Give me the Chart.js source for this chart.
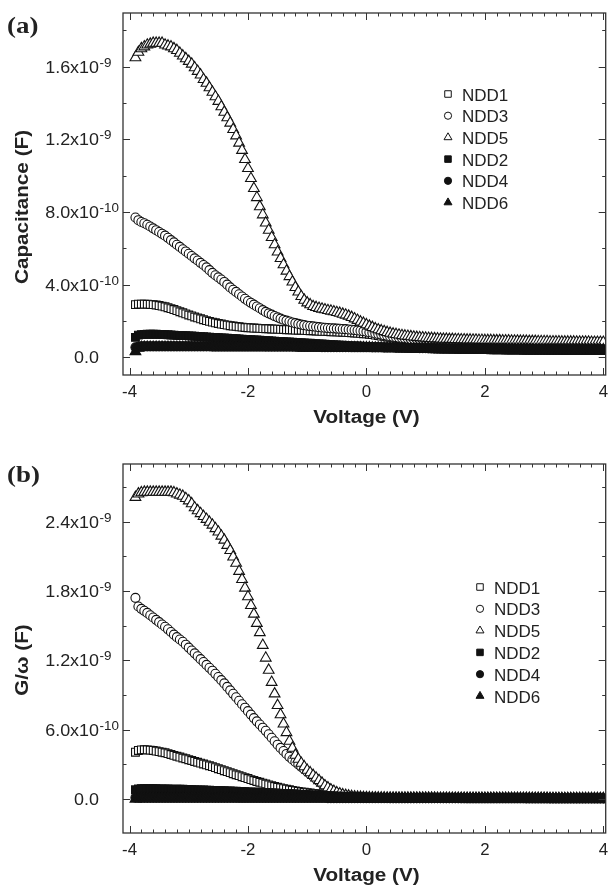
<!DOCTYPE html>
<html>
<head>
<meta charset="utf-8">
<script src="https://cdn.jsdelivr.net/npm/chart.js@4.4.1/dist/chart.umd.min.js"></script>
<style>
  html, body { margin: 0; padding: 0; background: #fff; }
  .panel { position: absolute; left: 0; }
  #panelA { top: 0; }
  #panelB { top: 450px; }
</style>
</head>
<body>
<div class="panel" id="panelA"><canvas id="chartA" width="613" height="450"></canvas></div>
<div class="panel" id="panelB"><canvas id="chartB" width="613" height="437"></canvas></div>
<script>
// ------------------------------
// Data (y values in units of 1e-10 F)
// ------------------------------
const voltage = [
  -3.9,-3.85,-3.8,-3.75,-3.7,-3.65,-3.6,-3.55,-3.5,-3.45,
  -3.4,-3.35,-3.3,-3.25,-3.2,-3.15,-3.1,-3.05,-3,-2.95,
  -2.9,-2.85,-2.8,-2.75,-2.7,-2.65,-2.6,-2.55,-2.5,-2.45,
  -2.4,-2.35,-2.3,-2.25,-2.2,-2.15,-2.1,-2.05,-2,-1.95,
  -1.9,-1.85,-1.8,-1.75,-1.7,-1.65,-1.6,-1.55,-1.5,-1.45,
  -1.4,-1.35,-1.3,-1.25,-1.2,-1.15,-1.1,-1.05,-1,-0.95,
  -0.9,-0.85,-0.8,-0.75,-0.7,-0.65,-0.6,-0.55,-0.5,-0.45,
  -0.4,-0.35,-0.3,-0.25,-0.2,-0.15,-0.1,-0.05,0,0.05,
  0.1,0.15,0.2,0.25,0.3,0.35,0.4,0.45,0.5,0.55,
  0.6,0.65,0.7,0.75,0.8,0.85,0.9,0.95,1,1.05,
  1.1,1.15,1.2,1.25,1.3,1.35,1.4,1.45,1.5,1.55,
  1.6,1.65,1.7,1.75,1.8,1.85,1.9,1.95,2,2.05,
  2.1,2.15,2.2,2.25,2.3,2.35,2.4,2.45,2.5,2.55,
  2.6,2.65,2.7,2.75,2.8,2.85,2.9,2.95,3,3.05,
  3.1,3.15,3.2,3.25,3.3,3.35,3.4,3.45,3.5,3.55,
  3.6,3.65,3.7,3.75,3.8,3.85,3.9,3.95,4
];

const seriesNames = ['NDD1', 'NDD3', 'NDD5', 'NDD2', 'NDD4', 'NDD6'];

// (a) Capacitance
const capNDD1 = [
  2.9,2.93,2.93,2.93,2.92,2.91,2.9,2.88,2.85,2.82,
  2.78,2.73,2.68,2.63,2.57,2.51,2.45,2.39,2.33,2.28,
  2.22,2.17,2.12,2.07,2.02,1.98,1.94,1.9,1.86,1.83,
  1.8,1.77,1.74,1.72,1.7,1.68,1.66,1.64,1.63,1.62,
  1.61,1.6,1.59,1.58,1.57,1.57,1.56,1.55,1.55,1.54,
  1.53,1.52,1.52,1.51,1.5,1.49,1.49,1.48,1.47,1.46,
  1.46,1.45,1.44,1.43,1.43,1.42,1.41,1.4,1.4,1.39,
  1.38,1.37,1.36,1.35,1.34,1.33,1.32,1.3,1.29,1.27,
  1.25,1.22,1.2,1.17,1.15,1.12,1.1,1.07,1.05,1.02,
  1,0.98,0.96,0.94,0.92,0.91,0.9,0.88,0.86,0.85,
  0.84,0.83,0.82,0.81,0.8,0.79,0.78,0.77,0.76,0.76,
  0.75,0.74,0.74,0.73,0.72,0.72,0.71,0.71,0.7,0.7,
  0.69,0.69,0.68,0.68,0.67,0.67,0.67,0.66,0.66,0.66,
  0.65,0.65,0.65,0.64,0.64,0.64,0.63,0.63,0.63,0.63,
  0.62,0.62,0.62,0.62,0.61,0.61,0.61,0.61,0.61,0.6,
  0.6,0.6,0.6,0.6,0.6,0.6,0.6,0.59,0.59
];
const capNDD3 = [
  7.7,7.55,7.45,7.38,7.3,7.2,7.1,7,6.9,6.8,
  6.7,6.58,6.45,6.33,6.2,6.08,5.95,5.83,5.7,5.58,
  5.45,5.33,5.2,5.08,4.95,4.8,4.65,4.52,4.4,4.28,
  4.15,4,3.85,3.72,3.6,3.47,3.35,3.22,3.1,3,
  2.9,2.8,2.7,2.6,2.5,2.42,2.35,2.27,2.2,2.13,
  2.07,2.02,1.97,1.92,1.88,1.84,1.8,1.77,1.74,1.72,
  1.7,1.68,1.66,1.64,1.63,1.61,1.6,1.59,1.58,1.57,
  1.56,1.55,1.53,1.52,1.5,1.48,1.46,1.44,1.41,1.38,
  1.35,1.31,1.28,1.25,1.22,1.19,1.16,1.13,1.11,1.08,
  1.06,1.04,1.02,1,0.99,0.98,0.97,0.96,0.94,0.93,
  0.92,0.91,0.9,0.89,0.89,0.88,0.87,0.87,0.86,0.86,
  0.85,0.85,0.84,0.84,0.83,0.83,0.82,0.82,0.81,0.81,
  0.81,0.8,0.8,0.8,0.79,0.79,0.79,0.78,0.78,0.78,
  0.77,0.77,0.77,0.76,0.76,0.76,0.76,0.75,0.75,0.75,
  0.75,0.74,0.74,0.74,0.74,0.73,0.73,0.73,0.73,0.73,
  0.72,0.72,0.72,0.72,0.72,0.71,0.71,0.71,0.71
];
const capNDD5 = [
  16.5,16.8,17,17.1,17.2,17.25,17.3,17.3,17.3,17.3,
  17.2,17.15,17.1,17,16.9,16.75,16.6,16.45,16.3,16.15,
  15.95,15.75,15.55,15.3,15.1,14.85,14.6,14.35,14.1,13.8,
  13.5,13.2,12.9,12.55,12.2,11.8,11.4,10.9,10.4,9.85,
  9.3,8.8,8.3,7.85,7.4,7,6.6,6.2,5.8,5.45,
  5.1,4.75,4.45,4.15,3.85,3.6,3.35,3.15,3,2.9,
  2.8,2.75,2.7,2.66,2.62,2.58,2.55,2.51,2.47,2.43,
  2.38,2.33,2.27,2.2,2.12,2.04,1.95,1.88,1.8,1.72,
  1.65,1.58,1.52,1.47,1.42,1.37,1.33,1.29,1.26,1.23,
  1.2,1.18,1.16,1.14,1.12,1.1,1.09,1.08,1.06,1.05,
  1.04,1.03,1.02,1.01,1,1,0.99,0.99,0.98,0.98,
  0.97,0.97,0.96,0.96,0.95,0.95,0.94,0.94,0.93,0.93,
  0.93,0.92,0.92,0.92,0.91,0.91,0.91,0.9,0.9,0.9,
  0.89,0.89,0.89,0.88,0.88,0.88,0.87,0.87,0.87,0.87,
  0.86,0.86,0.86,0.86,0.85,0.85,0.85,0.85,0.85,0.84,
  0.84,0.84,0.84,0.84,0.83,0.83,0.83,0.83,0.83
];
const capNDD2 = [
  1.1,1.22,1.25,1.26,1.27,1.27,1.27,1.27,1.26,1.26,
  1.25,1.24,1.23,1.22,1.21,1.2,1.19,1.19,1.18,1.17,
  1.16,1.15,1.14,1.13,1.12,1.11,1.1,1.09,1.08,1.07,
  1.06,1.05,1.04,1.03,1.02,1.01,1,0.99,0.98,0.97,
  0.96,0.95,0.94,0.93,0.92,0.91,0.9,0.89,0.88,0.87,
  0.86,0.85,0.84,0.83,0.82,0.81,0.8,0.79,0.78,0.77,
  0.76,0.75,0.74,0.73,0.72,0.71,0.7,0.69,0.68,0.67,
  0.66,0.65,0.64,0.63,0.63,0.62,0.61,0.6,0.6,0.59,
  0.58,0.57,0.57,0.56,0.55,0.55,0.54,0.54,0.53,0.53,
  0.52,0.52,0.51,0.51,0.5,0.5,0.49,0.49,0.48,0.48,
  0.47,0.47,0.47,0.46,0.46,0.46,0.45,0.45,0.45,0.44,
  0.44,0.44,0.43,0.43,0.43,0.43,0.42,0.42,0.42,0.42,
  0.41,0.41,0.41,0.41,0.41,0.4,0.4,0.4,0.4,0.4,
  0.4,0.39,0.39,0.39,0.39,0.39,0.39,0.39,0.39,0.38,
  0.38,0.38,0.38,0.38,0.38,0.38,0.38,0.38,0.38,0.37,
  0.37,0.37,0.37,0.37,0.37,0.37,0.37,0.37,0.37
];
const capNDD4 = [
  0.55,0.58,0.6,0.6,0.6,0.6,0.6,0.6,0.6,0.6,
  0.6,0.6,0.6,0.6,0.6,0.6,0.6,0.6,0.6,0.6,
  0.6,0.6,0.6,0.6,0.6,0.6,0.59,0.59,0.59,0.59,
  0.59,0.59,0.59,0.59,0.59,0.59,0.59,0.59,0.59,0.59,
  0.59,0.59,0.59,0.59,0.58,0.58,0.58,0.58,0.58,0.58,
  0.58,0.58,0.58,0.58,0.58,0.57,0.57,0.57,0.57,0.57,
  0.57,0.57,0.57,0.56,0.56,0.56,0.56,0.56,0.56,0.56,
  0.56,0.56,0.56,0.55,0.55,0.55,0.55,0.55,0.55,0.55,
  0.54,0.54,0.54,0.54,0.53,0.53,0.53,0.53,0.52,0.52,
  0.52,0.52,0.51,0.51,0.51,0.51,0.5,0.5,0.5,0.5,
  0.5,0.49,0.49,0.49,0.49,0.49,0.48,0.48,0.48,0.48,
  0.48,0.48,0.47,0.47,0.47,0.47,0.47,0.47,0.47,0.47,
  0.46,0.46,0.46,0.46,0.46,0.46,0.46,0.46,0.46,0.46,
  0.46,0.46,0.46,0.45,0.45,0.45,0.45,0.45,0.45,0.45,
  0.45,0.45,0.44,0.44,0.44,0.44,0.44,0.44,0.44,0.44,
  0.44,0.44,0.44,0.44,0.44,0.44,0.44,0.44,0.44
];
const capNDD6 = [
  0.32,0.5,0.55,0.56,0.56,0.56,0.56,0.56,0.56,0.56,
  0.56,0.56,0.56,0.56,0.56,0.56,0.56,0.56,0.56,0.56,
  0.56,0.56,0.56,0.56,0.56,0.56,0.56,0.56,0.56,0.56,
  0.56,0.56,0.56,0.56,0.56,0.56,0.56,0.56,0.56,0.56,
  0.56,0.56,0.56,0.56,0.55,0.55,0.55,0.55,0.55,0.55,
  0.55,0.55,0.55,0.55,0.55,0.54,0.54,0.54,0.54,0.54,
  0.54,0.54,0.54,0.54,0.54,0.53,0.53,0.53,0.53,0.53,
  0.53,0.53,0.53,0.53,0.53,0.53,0.53,0.53,0.53,0.53,
  0.52,0.52,0.52,0.52,0.51,0.51,0.51,0.51,0.5,0.5,
  0.5,0.5,0.49,0.49,0.49,0.49,0.48,0.48,0.48,0.48,
  0.48,0.47,0.47,0.47,0.47,0.46,0.46,0.46,0.46,0.46,
  0.45,0.45,0.45,0.45,0.45,0.45,0.45,0.45,0.45,0.45,
  0.45,0.45,0.44,0.44,0.44,0.44,0.44,0.44,0.44,0.44,
  0.44,0.44,0.44,0.43,0.43,0.43,0.43,0.43,0.43,0.43,
  0.43,0.43,0.43,0.43,0.43,0.43,0.43,0.43,0.43,0.43,
  0.42,0.42,0.42,0.42,0.42,0.42,0.42,0.42,0.42
];

// (b) G/omega
const gNDD1 = [
  4.05,4.2,4.25,4.26,4.25,4.23,4.2,4.15,4.1,4.05,
  4,3.93,3.85,3.78,3.7,3.63,3.55,3.48,3.4,3.33,
  3.25,3.18,3.1,3.03,2.95,2.88,2.8,2.71,2.62,2.54,
  2.45,2.37,2.28,2.19,2.1,2.02,1.93,1.85,1.77,1.68,
  1.6,1.52,1.45,1.37,1.3,1.22,1.15,1.08,1.02,0.96,
  0.9,0.85,0.8,0.75,0.7,0.66,0.62,0.58,0.55,0.52,
  0.49,0.46,0.43,0.4,0.38,0.36,0.33,0.31,0.29,0.27,
  0.25,0.23,0.22,0.2,0.18,0.17,0.16,0.15,0.13,0.12,
  0.12,0.11,0.11,0.1,0.1,0.1,0.09,0.09,0.09,0.09,
  0.08,0.08,0.08,0.08,0.08,0.07,0.07,0.07,0.07,0.07,
  0.07,0.07,0.07,0.07,0.07,0.07,0.07,0.07,0.07,0.07,
  0.07,0.07,0.06,0.06,0.06,0.06,0.06,0.06,0.06,0.06,
  0.06,0.06,0.06,0.06,0.06,0.06,0.06,0.06,0.06,0.06,
  0.06,0.06,0.06,0.06,0.06,0.05,0.05,0.05,0.05,0.05,
  0.05,0.05,0.05,0.05,0.05,0.05,0.05,0.05,0.05,0.05,
  0.05,0.05,0.05,0.05,0.05,0.05,0.05,0.05,0.05
];
const gNDD3 = [
  17.4,16.65,16.45,16.28,16.1,15.9,15.7,15.5,15.3,15.1,
  14.9,14.68,14.45,14.22,14,13.8,13.6,13.35,13.1,12.85,
  12.6,12.35,12.1,11.85,11.6,11.35,11.1,10.83,10.55,10.28,
  10,9.7,9.4,9.1,8.8,8.5,8.2,7.9,7.6,7.3,
  7,6.72,6.45,6.17,5.9,5.6,5.3,5,4.7,4.42,
  4.15,3.9,3.65,3.42,3.2,3,2.78,2.57,2.36,2.15,
  1.95,1.74,1.53,1.32,1.12,0.94,0.77,0.63,0.51,0.41,
  0.33,0.27,0.22,0.19,0.16,0.14,0.13,0.12,0.11,0.1,
  0.1,0.1,0.09,0.09,0.09,0.09,0.08,0.08,0.08,0.08,
  0.08,0.08,0.07,0.07,0.07,0.07,0.07,0.07,0.07,0.07,
  0.07,0.07,0.07,0.07,0.07,0.07,0.07,0.07,0.07,0.07,
  0.07,0.07,0.06,0.06,0.06,0.06,0.06,0.06,0.06,0.06,
  0.06,0.06,0.06,0.06,0.06,0.06,0.06,0.06,0.06,0.06,
  0.06,0.06,0.05,0.05,0.05,0.05,0.05,0.05,0.05,0.05,
  0.05,0.05,0.05,0.05,0.05,0.05,0.05,0.05,0.05,0.05,
  0.05,0.05,0.05,0.05,0.05,0.05,0.05,0.05,0.05
];
const gNDD5 = [
  26.1,26.4,26.5,26.55,26.55,26.55,26.55,26.55,26.55,26.55,
  26.55,26.55,26.55,26.5,26.4,26.3,26.2,26,25.8,25.55,
  25.2,24.95,24.7,24.45,24.2,23.95,23.7,23.4,23.1,22.75,
  22.4,21.95,21.5,20.95,20.4,19.7,19,18.25,17.5,16.75,
  16,15.2,14.4,13.3,12.2,11.15,10.1,9.1,8.1,7.3,
  6.5,5.75,5,4.4,3.8,3.45,3.1,2.8,2.5,2.28,
  2.05,1.82,1.6,1.38,1.15,0.97,0.8,0.67,0.55,0.46,
  0.38,0.32,0.27,0.23,0.2,0.18,0.16,0.14,0.13,0.12,
  0.11,0.11,0.1,0.1,0.1,0.09,0.09,0.09,0.09,0.08,
  0.08,0.08,0.08,0.08,0.08,0.08,0.08,0.08,0.08,0.08,
  0.08,0.08,0.07,0.07,0.07,0.07,0.07,0.07,0.07,0.07,
  0.07,0.07,0.07,0.07,0.07,0.07,0.07,0.07,0.07,0.07,
  0.06,0.06,0.06,0.06,0.06,0.06,0.06,0.06,0.06,0.06,
  0.06,0.06,0.06,0.06,0.06,0.06,0.06,0.06,0.06,0.06,
  0.05,0.05,0.05,0.05,0.05,0.05,0.05,0.05,0.05,0.05,
  0.05,0.05,0.05,0.05,0.05,0.05,0.05,0.05,0.05
];
const gNDD2 = [
  0.8,0.88,0.9,0.9,0.9,0.89,0.89,0.89,0.88,0.88,
  0.87,0.87,0.86,0.86,0.85,0.84,0.84,0.83,0.82,0.81,
  0.8,0.79,0.78,0.78,0.77,0.76,0.75,0.74,0.73,0.72,
  0.71,0.7,0.69,0.68,0.67,0.66,0.65,0.64,0.62,0.61,
  0.6,0.59,0.58,0.57,0.56,0.54,0.53,0.52,0.5,0.49,
  0.48,0.47,0.46,0.44,0.43,0.42,0.4,0.39,0.37,0.36,
  0.35,0.34,0.32,0.31,0.3,0.29,0.28,0.26,0.25,0.24,
  0.23,0.22,0.21,0.2,0.19,0.18,0.17,0.16,0.14,0.13,
  0.12,0.11,0.1,0.1,0.09,0.09,0.08,0.08,0.08,0.07,
  0.07,0.07,0.07,0.07,0.07,0.07,0.07,0.07,0.07,0.07,
  0.06,0.06,0.06,0.06,0.06,0.06,0.06,0.06,0.06,0.06,
  0.06,0.06,0.06,0.06,0.06,0.06,0.06,0.06,0.06,0.06,
  0.05,0.05,0.05,0.05,0.05,0.05,0.05,0.05,0.05,0.05,
  0.05,0.05,0.05,0.05,0.05,0.05,0.05,0.05,0.05,0.05,
  0.04,0.04,0.04,0.04,0.04,0.04,0.04,0.04,0.04,0.04,
  0.04,0.04,0.04,0.04,0.04,0.04,0.04,0.04,0.04
];
const gNDD4 = [
  0.12,0.11,0.1,0.1,0.1,0.1,0.1,0.1,0.1,0.1,
  0.1,0.1,0.1,0.1,0.1,0.1,0.1,0.1,0.1,0.1,
  0.1,0.1,0.1,0.1,0.1,0.1,0.1,0.1,0.1,0.1,
  0.1,0.1,0.1,0.1,0.1,0.09,0.09,0.09,0.09,0.09,
  0.09,0.09,0.09,0.09,0.09,0.09,0.09,0.09,0.09,0.09,
  0.09,0.09,0.09,0.09,0.09,0.09,0.09,0.09,0.09,0.09,
  0.09,0.09,0.09,0.09,0.09,0.08,0.08,0.08,0.08,0.08,
  0.08,0.08,0.08,0.08,0.08,0.08,0.08,0.08,0.08,0.08,
  0.08,0.08,0.08,0.08,0.08,0.08,0.08,0.08,0.08,0.08,
  0.07,0.07,0.07,0.07,0.07,0.07,0.07,0.07,0.07,0.07,
  0.07,0.07,0.07,0.07,0.07,0.07,0.07,0.07,0.07,0.07,
  0.06,0.06,0.06,0.06,0.06,0.06,0.06,0.06,0.06,0.06,
  0.06,0.06,0.06,0.06,0.06,0.06,0.06,0.06,0.06,0.06,
  0.06,0.06,0.06,0.06,0.06,0.06,0.06,0.06,0.06,0.06,
  0.05,0.05,0.05,0.05,0.05,0.05,0.05,0.05,0.05,0.05,
  0.05,0.05,0.05,0.05,0.05,0.05,0.05,0.05,0.05
];
const gNDD6 = [
  0,0.05,0.06,0.06,0.06,0.06,0.06,0.06,0.06,0.06,
  0.06,0.06,0.06,0.06,0.06,0.06,0.06,0.06,0.06,0.06,
  0.06,0.06,0.06,0.06,0.06,0.06,0.06,0.06,0.06,0.06,
  0.06,0.06,0.06,0.06,0.06,0.06,0.06,0.06,0.06,0.06,
  0.05,0.05,0.05,0.05,0.05,0.05,0.05,0.05,0.05,0.05,
  0.05,0.05,0.05,0.05,0.05,0.05,0.05,0.05,0.05,0.05,
  0.05,0.05,0.05,0.05,0.05,0.05,0.05,0.05,0.05,0.05,
  0.05,0.05,0.05,0.05,0.05,0.05,0.05,0.05,0.05,0.05,
  0.05,0.05,0.05,0.05,0.05,0.05,0.05,0.05,0.05,0.05,
  0.04,0.04,0.04,0.04,0.04,0.04,0.04,0.04,0.04,0.04,
  0.04,0.04,0.04,0.04,0.04,0.04,0.04,0.04,0.04,0.04,
  0.04,0.04,0.04,0.04,0.04,0.04,0.04,0.04,0.04,0.04,
  0.04,0.04,0.04,0.04,0.04,0.04,0.04,0.04,0.04,0.04,
  0.03,0.03,0.03,0.03,0.03,0.03,0.03,0.03,0.03,0.03,
  0.03,0.03,0.03,0.03,0.03,0.03,0.03,0.03,0.03,0.03,
  0.03,0.03,0.03,0.03,0.03,0.03,0.03,0.03,0.03
];

// Tick values / labels
const xMajorTicks = [-4, -2, 0, 2, 4];
const xTickLabels = ['-4', '-2', '0', '2', '4'];
const capTicks = [0, 4, 8, 12, 16];
const capTickLabels = [['0.0', ''], ['4.0x10', '-10'], ['8.0x10', '-10'], ['1.2x10', '-9'], ['1.6x10', '-9']];
const gTicks = [0, 6, 12, 18, 24];
const gTickLabels = [['0.0', ''], ['6.0x10', '-10'], ['1.2x10', '-9'], ['1.8x10', '-9'], ['2.4x10', '-9']];

// ------------------------------
// Marker styles (Origin-like open / filled symbols)
// ------------------------------
const markerStyles = [
  { pointStyle: 'rect', radius: 5.5, fill: '#fff' },
  { pointStyle: 'circle', radius: 4.5, fill: '#fff' },
  { pointStyle: 'triangle', radius: 6.2, fill: '#fff' },
  { pointStyle: 'rect', radius: 5.5, fill: '#111' },
  { pointStyle: 'circle', radius: 4.5, fill: '#111' },
  { pointStyle: 'triangle', radius: 6.2, fill: '#111' }
];

function buildDatasets(seriesList) {
  return seriesList.map((vals, i) => ({
    label: seriesNames[i],
    data: voltage.map((v, k) => ({ x: v, y: vals[k] })),
    showLine: false,
    pointStyle: markerStyles[i].pointStyle,
    pointRadius: markerStyles[i].radius,
    pointBorderWidth: 1.1,
    pointBorderColor: '#111',
    pointBackgroundColor: markerStyles[i].fill,
    order: seriesList.length - i // later series drawn on top
  }));
}

// ------------------------------
// Stretched text helper (reference font is wider than Arial)
// ------------------------------
function drawText(ctx, str, x, y, font, align, sx) {
  ctx.save();
  ctx.font = font;
  const w = ctx.measureText(str).width * sx;
  const x0 = align === 'right' ? x - w : (align === 'center' ? x - w / 2 : x);
  ctx.translate(x0, y);
  ctx.scale(sx, 1);
  ctx.textAlign = 'left';
  ctx.textBaseline = 'alphabetic';
  ctx.fillText(str, 0, 0);
  ctx.restore();
  return w;
}

function drawLegendMarker(ctx, style, x, y, r) {
  ctx.save();
  ctx.fillStyle = style.fill;
  ctx.strokeStyle = '#111';
  ctx.lineWidth = 1;
  Chart.helpers.drawPoint(ctx, { pointStyle: style.pointStyle, radius: r, rotation: 0, borderWidth: 1 }, x, y);
  ctx.restore();
}

// ------------------------------
// Origin style frame: box, inward ticks, labels, titles, legend
// ------------------------------
const originFrame = {
  id: 'originFrame',
  afterDatasetsDraw(chart, args, o) {
    const ctx = chart.ctx;
    const a = chart.chartArea;
    const xs = chart.scales.x, ys = chart.scales.y;
    const SX = 1.12;
    const labelFont = '16px "Liberation Sans", Arial, sans-serif';
    const supFont = '12px "Liberation Sans", Arial, sans-serif';
    ctx.save();
    ctx.fillStyle = '#222';
    ctx.strokeStyle = '#333';
    ctx.lineWidth = 1.3;
    ctx.strokeRect(a.left, a.top, a.right - a.left, a.bottom - a.top);

    ctx.lineWidth = 1;
    ctx.beginPath();
    // x ticks: minor every 0.2 V, major every 2 V (bottom and top, inward)
    for (let k = -20; k <= 20; k++) {
      const px = Math.round(xs.getPixelForValue(k * 0.2)) + 0.5;
      if (px < a.left || px > a.right) continue;
      const len = (k % 10 === 0) ? 7 : 3.5;
      ctx.moveTo(px, a.bottom); ctx.lineTo(px, a.bottom - len);
      ctx.moveTo(px, a.top); ctx.lineTo(px, a.top + len);
    }
    // y ticks (left and right, inward)
    for (let k = -10; k <= 40; k++) {
      const v = k * o.yMinorStep;
      if (v < ys.min || v > ys.max) continue;
      const py = Math.round(ys.getPixelForValue(v)) + 0.5;
      const len = (k % 2 === 0) ? 7 : 3.5;
      ctx.moveTo(a.left, py); ctx.lineTo(a.left + len, py);
      ctx.moveTo(a.right, py); ctx.lineTo(a.right - len, py);
    }
    ctx.stroke();

    // x tick labels
    xMajorTicks.forEach((v, i) => {
      drawText(ctx, xTickLabels[i], xs.getPixelForValue(v), a.bottom + 22, labelFont, 'center', 1.05);
    });
    // y tick labels: base right-aligned, exponent hangs to the right
    o.yTicks.forEach((v, i) => {
      const py = ys.getPixelForValue(v) + 6;
      const base = o.yLabels[i][0], sup = o.yLabels[i][1];
      const right = 99;
      drawText(ctx, base, right, py, labelFont, 'right', SX);
      if (sup) drawText(ctx, sup, right + 0.5, py - 6, supFont, 'left', SX);
    });

    // axis titles
    const titleFont = 'bold 18px "Liberation Sans", Arial, sans-serif';
    drawText(ctx, 'Voltage (V)', xs.getPixelForValue(0), a.bottom + 48, titleFont, 'center', 1.15);
    ctx.save();
    ctx.translate(28, o.yTitleY);
    ctx.rotate(-Math.PI / 2);
    drawText(ctx, o.yTitle, 0, 0, titleFont, 'center', 1.15);
    ctx.restore();

    // panel letter
    drawText(ctx, o.letter, 7, o.letterY, 'bold 24px "Liberation Serif", "Times New Roman", serif', 'left', 1.12);

    // legend
    markerStyles.forEach((st, i) => {
      const ly = o.legendY + i * o.legendDy;
      const r = st.pointStyle === 'circle' ? 3.6 : 4.6;
      drawLegendMarker(ctx, st, o.legendX, ly, r);
      drawText(ctx, seriesNames[i], o.legendX + 14, ly + 6.5, '17px "Liberation Sans", Arial, sans-serif', 'left', 1.0);
    });
    ctx.restore();
  }
};

function makeChart(canvasId, seriesList, cfg) {
  return new Chart(document.getElementById(canvasId), {
    type: 'scatter',
    data: { datasets: buildDatasets(seriesList) },
    options: {
      responsive: false,
      animation: false,
      events: [],
      layout: { padding: { left: 0, right: 1, top: cfg.top, bottom: 0 } },
      plugins: {
        legend: { display: false },
        tooltip: { enabled: false },
        originFrame: cfg.frame
      },
      scales: {
        x: {
          type: 'linear', min: -4.11, max: 4.04,
          grid: { display: false }, border: { display: false },
          ticks: { display: false },
          afterFit: (s) => { s.height = cfg.xAxisH; }
        },
        y: {
          type: 'linear', min: cfg.yMin, max: cfg.yMax,
          grid: { display: false }, border: { display: false },
          ticks: { display: false },
          afterFit: (s) => { s.width = 123; }
        }
      }
    },
    plugins: [originFrame]
  });
}

makeChart('chartA', [capNDD1, capNDD3, capNDD5, capNDD2, capNDD4, capNDD6], {
  top: 13, xAxisH: 75, yMin: -0.975, yMax: 18.96,
  frame: {
    yMinorStep: 2, yTicks: capTicks, yLabels: capTickLabels,
    yTitle: 'Capacitance (F)', yTitleY: 207, letter: '(a)', letterY: 33,
    legendX: 448, legendY: 94, legendDy: 21.7
  }
});

makeChart('chartB', [gNDD1, gNDD3, gNDD5, gNDD2, gNDD4, gNDD6], {
  top: 14, xAxisH: 54, yMin: -2.94, yMax: 28.98,
  frame: {
    yMinorStep: 3, yTicks: gTicks, yLabels: gTickLabels,
    yTitle: 'G/\u03C9 (F)', yTitleY: 210, letter: '(b)', letterY: 32,
    legendX: 480, legendY: 137, legendDy: 21.8
  }
});
</script>
</body>
</html>
